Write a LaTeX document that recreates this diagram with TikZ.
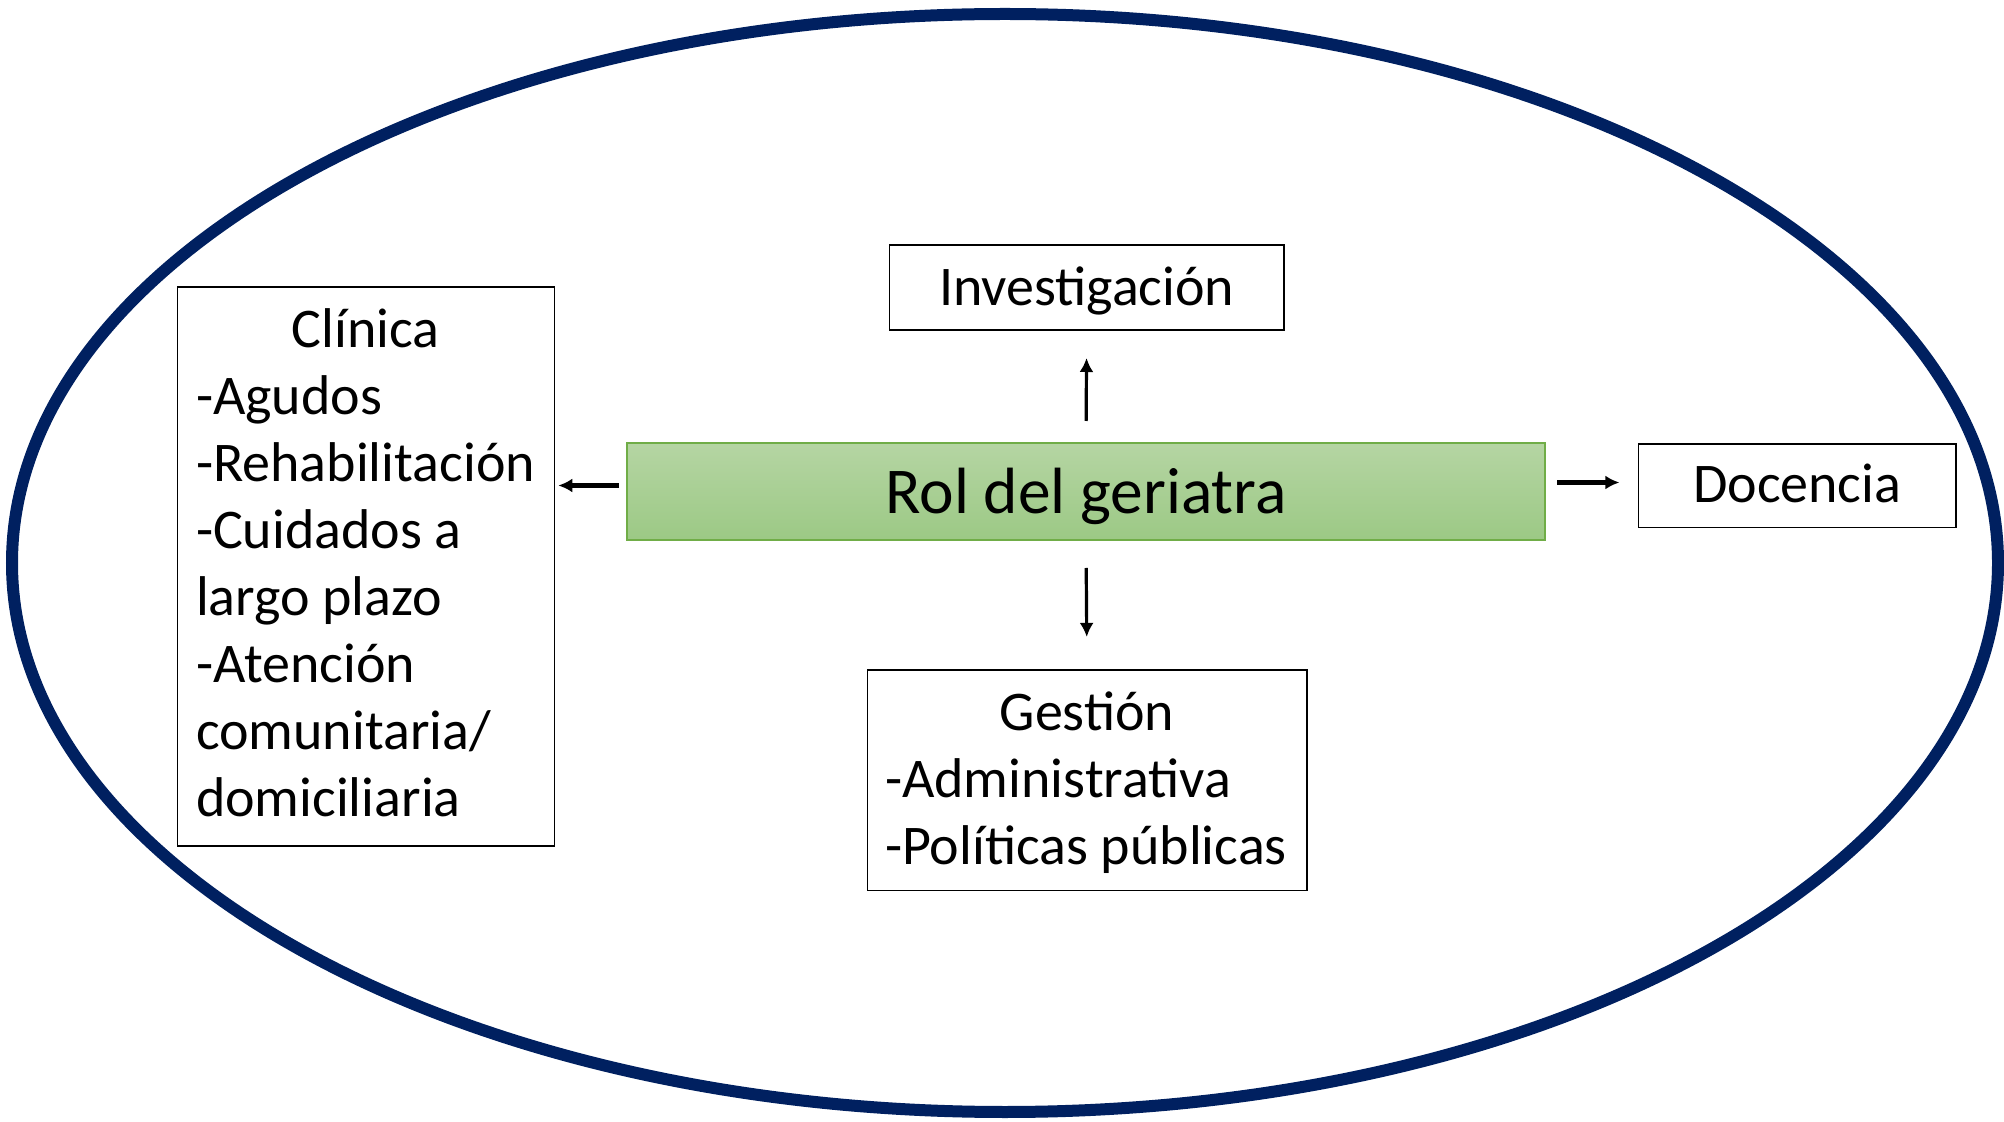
\documentclass[tikz,border=0pt]{standalone}
\usepackage{fontspec}
\setmainfont{Carlito}
\usepackage{tikz}
\usetikzlibrary{arrows.meta}
\definecolor{navy}{HTML}{002060}
\definecolor{leafline}{HTML}{70AD47}
\definecolor{leaftop}{HTML}{B5D5A3}
\definecolor{leafbot}{HTML}{9CC985}
\newcommand{\heading}[1]{\multicolumn{1}{@{}c@{}}{#1}}
\tikzstyle{box}=[draw, line width=0.8pt, inner sep=0, outer sep=0]
\tikzstyle{listbox}=[box, font=\fontsize{28}{33.5}\selectfont]
\tikzstyle{rolbox}=[draw=leafline, line width=0.6pt, top color=leaftop, bottom color=leafbot,
                    inner sep=0, outer sep=0, font=\fontsize{32.7}{40}\selectfont]
\tikzstyle{link}=[line width=1.6pt, -{Latex[length=7pt, width=7pt]}]
\tikzstyle{roleplot}=[x=0.5pt, y=-0.5pt,
                      % Page is the size of the reference picture.
                      execute at begin picture={\useasboundingbox (0,0) rectangle (2004,1122);}]

\begin{document}
\begin{tikzpicture}[roleplot]
        \draw[navy, line width=6pt] (1005, 563) ellipse [x radius=993, y radius=549];
        \node[rolbox, minimum width=459pt, text height=35.15pt, text depth=13.35pt]       (R) at (1086, 491.5)   {Rol del geriatra};
        \node[listbox, minimum width=197.3pt, text height=30.5pt, text depth=12pt]        (I) at (1086.7, 287.5) {Investigación};
        \node[listbox, minimum width=158.8pt, text height=29.2pt, text depth=12.5pt]      (D) at (1797.2, 486)   {Docencia};
        \node[listbox, inner xsep=9.35pt, text height=30.2pt, text depth=249.2pt]        (C) at (365.8, 566.6)
            {\begin{tabular}[t]{@{}p{169.8pt}@{}}\heading{Clínica}\\ -Agudos\\ -Rehabilitación\\ -Cuidados a\\
             largo plazo\\ -Atención\\ comunitaria/\\ domiciliaria\end{tabular}};
        \node[listbox, inner xsep=8.85pt, text height=30.5pt, text depth=79.85pt]        (G) at (1087, 780.3)
            {\begin{tabular}[t]{@{}p{202pt}@{}}\heading{Gestión}\\ -Administrativa\\ -Políticas públicas\end{tabular}};
        \draw[link, shorten <=11pt, shorten >=14pt]   (R.north) -- (I.south);
        \draw[link, shorten <=14pt, shorten >=16.5pt] (R.south) -- (G.north);
        \draw[link, line width=2.2pt, shorten <=4pt, shorten >=2pt]   ([yshift=3pt]R.west) -- ([yshift=3pt]R.west -| C.east);
        \draw[link, line width=2.2pt, shorten <=6pt, shorten >=9.5pt] ([yshift=4.5pt]R.east) -- ([yshift=4.5pt]R.east -| D.west);
    \end{tikzpicture}
\end{document}
